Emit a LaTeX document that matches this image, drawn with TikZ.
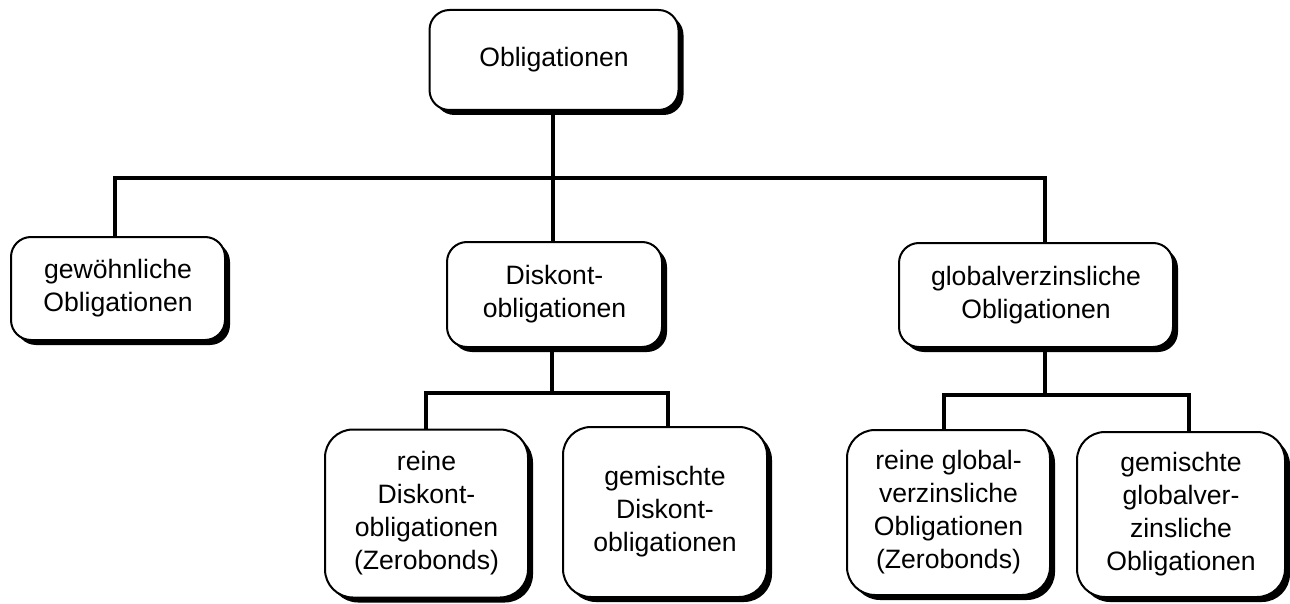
\documentclass[tikz,border=0pt]{standalone}
\usepackage{fontspec}
\setmainfont{Liberation Sans}
\usetikzlibrary{shadows}
\begin{document}
\begin{tikzpicture}[x=1pt,y=-1pt,
  box/.style={draw=black, line width=2pt, fill=white, rounded corners=20pt,
    align=center, inner sep=0pt,
    font=\fontsize{26.6pt}{33pt}\selectfont,
    drop shadow={shadow xshift=5pt, shadow yshift=-5pt, fill=black, opacity=1}},
  bigbox/.style={box, rounded corners=28pt},
  conn/.style={draw=black, line width=3.5pt}]
\useasboundingbox (0,0) rectangle (1290,604);

\node[box, minimum width=249pt, minimum height=100pt] (top) at (554,60) {Obligationen};
\node[box, minimum width=214pt, minimum height=103pt] (gew) at (118,288.5) {gewöhnliche\\Obligationen};
\node[box, minimum width=215pt, minimum height=105pt] (disk) at (554.5,294.5) {Diskont-\\obligationen};
\node[box, minimum width=274pt, minimum height=104pt] (glob) at (1036,295) {globalverzinsliche\\Obligationen};

\node[bigbox, minimum width=203pt, minimum height=168pt] (rd) at (426.5,513.5) {reine\\Diskont-\\obligationen\\(Zerobonds)};
\node[bigbox, minimum width=204pt, minimum height=170pt] (gd) at (665,512) {gemischte\\Diskont-\\obligationen};
\node[bigbox, minimum width=203pt, minimum height=165pt] (rg) at (948.5,512.5) {reine global-\\verzinsliche\\Obligationen\\(Zerobonds)};
\node[bigbox, minimum width=208pt, minimum height=165pt] (gg) at (1181,514.5) {gemischte\\globalver-\\zinsliche\\Obligationen};

% first level
\coordinate (h0) at (553,178);
\coordinate (hl) at (115,178);
\coordinate (hr) at (1045,178);
\draw[conn] (top.south -| h0) -- (disk.north -| h0);
\draw[conn] (gew.north -| hl) -- (hl) -- (hr) -- (glob.north -| hr);

% Diskont subtree
\coordinate (d0) at (552,393);
\coordinate (dl) at (426,393);
\coordinate (dr) at (668,393);
\draw[conn] (disk.south -| d0) -- (d0);
\draw[conn] (rd.north -| dl) -- (dl) -- (dr) -- (gd.north -| dr);

% global subtree
\coordinate (g0) at (1045,395);
\coordinate (gl) at (944,395);
\coordinate (gr) at (1189,395);
\draw[conn] (glob.south -| g0) -- (g0);
\draw[conn] (rg.north -| gl) -- (gl) -- (gr) -- (gg.north -| gr);
\end{tikzpicture}
\end{document}
